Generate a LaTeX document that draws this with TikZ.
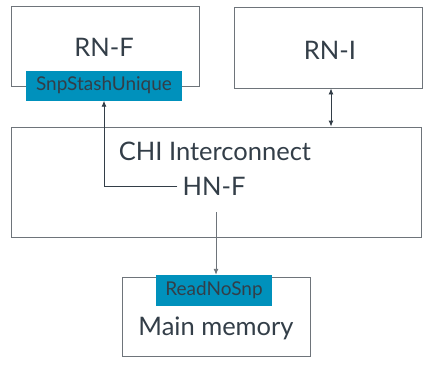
\documentclass[tikz,border=0pt]{standalone}
\usepackage{fontspec}
\setmainfont{Lato}
\usetikzlibrary{arrows.meta, positioning}

\definecolor{boxline}{HTML}{6E747A}
\definecolor{labelteal}{HTML}{0091BC}
\definecolor{textdark}{HTML}{333E48}

\tikzset{
  block/.style={draw=boxline, line width=0.9pt, fill=white, inner sep=0pt},
  title/.style={text=textdark, font=\fontsize{25.5}{30}\selectfont},
  tag/.style={fill=labelteal, inner sep=0pt, text=textdark, font=\fontsize{19}{22}\selectfont},
  link/.style={draw=textdark, line width=0.9pt, -{Latex[length=6pt,width=5pt]}}
}

\begin{document}
\begin{tikzpicture}[x=1pt, y=-1pt]

% Fix the page to the size of the reference
\useasboundingbox (0,0) rectangle (428,364);

% The blocks
\node[block, minimum width=188pt, minimum height=80pt] (rnf) at (105,46) {};
\node[block, minimum width=188pt, minimum height=81pt] (rni) at (328.5,47.5) {};
\node[block, minimum width=410pt, minimum height=110pt] (chi) at (216,182) {};
\node[block, minimum width=188pt, minimum height=79pt] (mem) at (216,316.5) {};

% Texts inside the blocks
\node[title] (rnftext) at (104,47) {RN-F};
\node[title] (rnitext) at (330,50) {RN-I};
\node[title] (chitext) at (215,151) {CHI Interconnect};
\node[title, inner sep=5pt] (hnf) at (214,186) {HN-F};
\node[title] (memtext) at (216,328) {Main memory};

% Message tags
\node[tag, minimum width=156pt, minimum height=30pt] (stash) at (104,85.5) {SnpStashUnique};
\node[tag, minimum width=116pt, minimum height=31pt] (read) at (214,290.5) {ReadNoSnp};

% Connectors
\coordinate (corner) at (104,186);
\draw[link] (hnf.west) -- (corner) -- (stash.south -| corner);
\draw[link, draw=boxline] ([xshift=2pt, yshift=-12pt]hnf.south) -- (read.north -| 216,0);
\draw[link, {Latex[length=6pt,width=5pt]}-{Latex[length=6pt,width=5pt]}] (rni.south -| 331,0) -- (chi.north -| 331,0);

\end{tikzpicture}
\end{document}
